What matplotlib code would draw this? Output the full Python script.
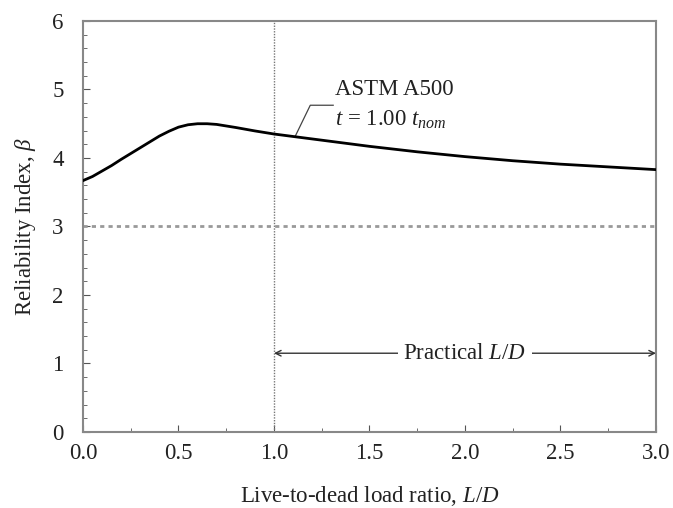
import matplotlib
matplotlib.use("Agg")
import matplotlib.pyplot as plt
from matplotlib.ticker import MultipleLocator

plt.rcParams['font.family'] = ['Liberation Serif', 'DejaVu Serif']
plt.rcParams['mathtext.fontset'] = 'custom'
plt.rcParams['mathtext.rm'] = 'Liberation Serif'
plt.rcParams['mathtext.it'] = 'Liberation Serif:italic'

# reliability index vs live-to-dead load ratio
ld_ratio = [0.0, 0.05, 0.1, 0.15, 0.2, 0.3, 0.4, 0.45, 0.5, 0.55, 0.6, 0.65,
            0.7, 0.8, 0.9, 1.0, 1.25, 1.5, 1.75, 2.0, 2.25, 2.5, 2.75, 3.0]
beta = [3.67, 3.73, 3.81, 3.89, 3.98, 4.15, 4.32, 4.39, 4.45, 4.485, 4.50, 4.50,
        4.49, 4.445, 4.395, 4.35, 4.26, 4.17, 4.09, 4.02, 3.96, 3.91, 3.87, 3.83]
beta_target = 3.0
practical_range = [1.0, 3.0]
x_ticks = [0.0, 0.5, 1.0, 1.5, 2.0, 2.5, 3.0]
y_ticks = [0, 1, 2, 3, 4, 5, 6]

fs = 16.5
fig = plt.figure(figsize=(6.73, 5.08), dpi=100)
ax = fig.add_axes([0.1233, 0.1496, 0.8514, 0.8091])

ax.plot(ld_ratio, beta, color='black', lw=2.0, zorder=3)
ax.axhline(beta_target, color='#999999', lw=2.0, ls=(0, (1.5, 1.5)), zorder=2)
ax.axvline(practical_range[0], color='#777777', lw=1.0, ls=(0, (1, 1)), zorder=2)

# practical L/D arrow
ax.annotate('', xy=(practical_range[0], 1.15), xytext=(practical_range[1], 1.15),
            arrowprops=dict(arrowstyle='<->', color='#333333', lw=1.0,
                            shrinkA=0, shrinkB=0))
ax.text(2.0, 1.15, 'Practical $\\mathit{L/D}$', ha='center', va='center',
        fontsize=fs, color='#222222',
        bbox=dict(facecolor='white', edgecolor='none', pad=4))

# leader label
ax.plot([1.11, 1.19, 1.31], [4.31, 4.77, 4.77], color='#444444', lw=0.9)
ax.text(1.32, 5.0, 'ASTM A500', ha='left', va='center', fontsize=fs,
        color='#222222')
ax.text(1.32, 4.55, '$\\mathit{t}$ = 1.00 $\\mathit{t}_{\\mathit{nom}}$',
        ha='left', va='center', fontsize=fs, color='#222222')

ax.set_xlim(0, 3)
ax.set_ylim(0, 6)
ax.set_xticks(x_ticks)
ax.set_xticklabels([f'{v:.1f}' for v in x_ticks])
ax.set_yticks(y_ticks)
ax.xaxis.set_minor_locator(MultipleLocator(0.25))
ax.yaxis.set_minor_locator(MultipleLocator(0.2))
ax.tick_params(which='both', direction='in', top=False, right=False,
               labelsize=fs, labelcolor='#222222', color='#555555')
ax.tick_params(which='major', length=5)
ax.tick_params(axis='x', which='major', pad=8)
ax.tick_params(axis='y', which='major', pad=14)
ax.tick_params(which='minor', length=3)
for s in ax.spines.values():
    s.set_color('#888888')
    s.set_linewidth(1.5)

ax.set_xlabel('Live-to-dead load ratio, $\\mathit{L/D}$', fontsize=fs,
              color='#222222', labelpad=14)
ax.set_ylabel('Reliability Index, $\\mathit{\\beta}$', fontsize=fs,
              color='#222222', labelpad=10)

fig.savefig('out.png', dpi=100)
